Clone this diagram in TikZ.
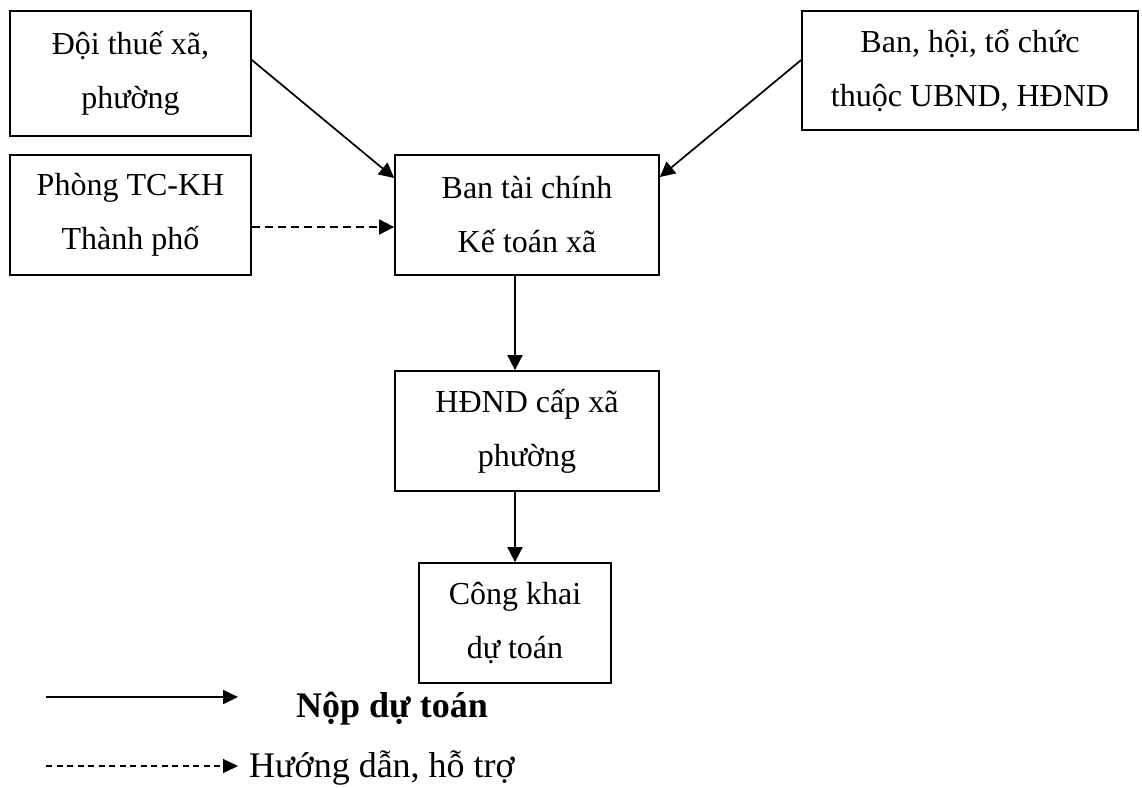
\documentclass[tikz,border=0pt]{standalone}
\usepackage{fontspec}
\setmainfont{Liberation Serif}
\usetikzlibrary{arrows.meta}
\begin{document}
\begin{tikzpicture}[x=1pt,y=-1pt,
  box/.style={draw,line width=1.7pt,inner sep=0pt,align=center,
    font=\fontsize{32}{54}\selectfont},
  arr/.style={line width=1.7pt,-{Triangle[length=15pt,width=15pt]}},
  darr/.style={arr,dash pattern=on 8pt off 5pt},
  legtext/.style={inner sep=0pt,anchor=base west}]
\useasboundingbox (0,0) rectangle (1142,787);
\node[box,minimum width=241pt,minimum height=125pt] (b1) at (130.5,73.5) {Đội thuế xã,\\phường};
\node[box,minimum width=336pt,minimum height=119pt] (b2) at (970,70.5) {Ban, hội, tổ chức\\thuộc UBND, HĐND};
\node[box,minimum width=241pt,minimum height=120pt] (b3) at (130.5,215) {Phòng TC-KH\\Thành phố};
\node[box,minimum width=264pt,minimum height=120pt] (b4) at (527,215) {Ban tài chính\\Kế toán xã};
\node[box,minimum width=264pt,minimum height=120pt] (b5) at (527,431) {HĐND cấp xã\\phường};
\node[box,minimum width=192pt,minimum height=120pt] (b6) at (515,623) {Công khai\\dự toán};
\draw[arr] ([yshift=13.5pt]b1.east) -- ([yshift=37pt]b4.west);
\draw[arr] ([yshift=10.5pt]b2.west) -- ([yshift=38pt]b4.east);
\draw[darr] ([yshift=-12pt]b3.east) -- ([yshift=-12pt]b4.west);
\draw[arr] ([xshift=-12pt]b4.south) -- ([xshift=-12pt]b5.north);
\draw[arr] ([xshift=-12pt]b5.south) -- (b6.north);
% legend
\coordinate (l1s) at (46,697);
\coordinate (l1e) at (238,697);
\coordinate (l2s) at (46,766);
\coordinate (l2e) at (238,766);
\draw[line width=1.7pt,-{Triangle[length=15pt,width=14pt]}] (l1s) -- (l1e);
\draw[line width=1.3pt,dash pattern=on 6pt off 4.5pt,-{Triangle[length=15pt,width=14pt]}] (l2s) -- (l2e);
\node[legtext,font=\fontsize{36}{40}\selectfont\bfseries] (t1) at (296,717) {Nộp dự toán};
\node[legtext,font=\fontsize{36}{40}\selectfont] (t2) at (249,777) {Hướng dẫn, hỗ trợ};
\end{tikzpicture}
\end{document}
